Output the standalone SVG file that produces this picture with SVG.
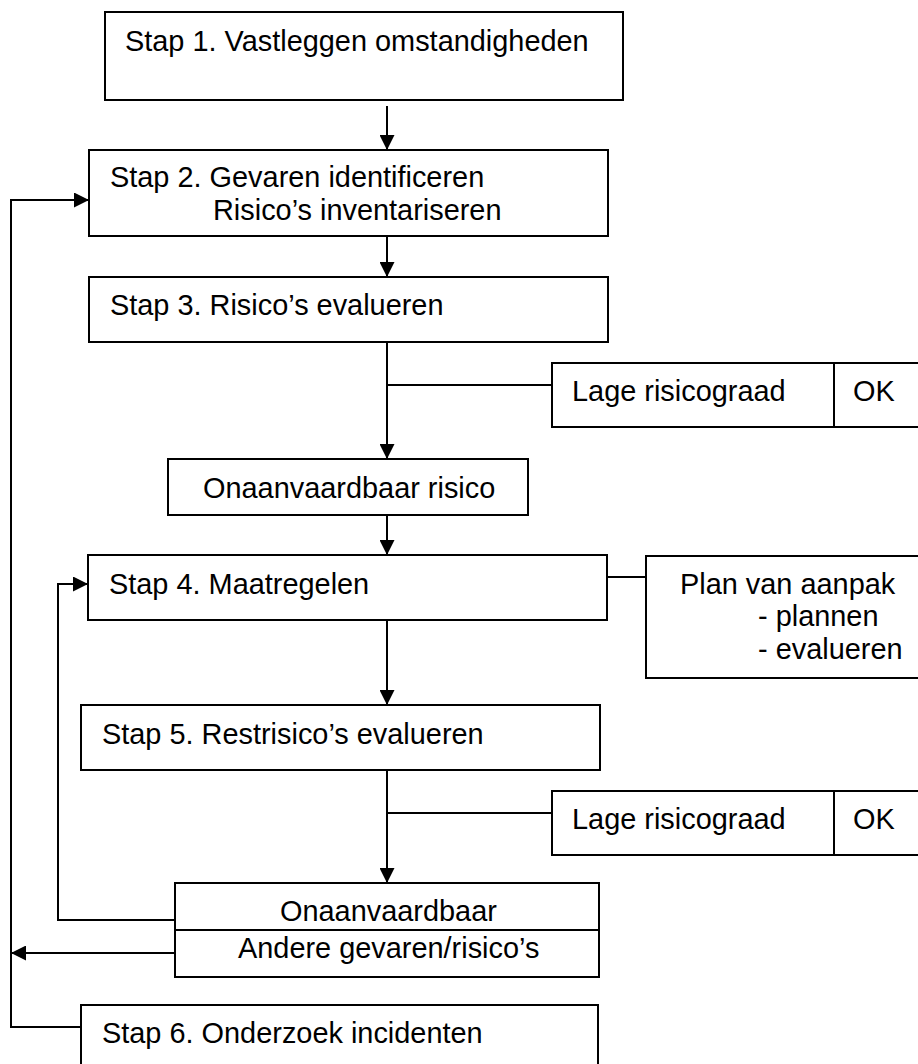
<svg xmlns="http://www.w3.org/2000/svg" width="918" height="1064" viewBox="0 0 918 1064">
<style>
.box{fill:#fff;stroke:#000;stroke-width:2}
.t{font-family:"Liberation Sans",Arial,sans-serif;font-size:28.9px;fill:#000}
.c{fill:none;stroke:#000;stroke-width:2}
</style>
<defs>
<marker id="ah" markerUnits="userSpaceOnUse" markerWidth="15" markerHeight="15" refX="15" refY="7.5" orient="auto">
<path d="M0,0 L15,7.5 L0,15 z" fill="#000"/>
</marker>
</defs>
<rect width="918" height="1064" fill="#fff"/>
<g id="connectors">
<line class="c" x1="387" y1="106" x2="387" y2="150" marker-end="url(#ah)"/>
<line class="c" x1="387" y1="236" x2="387" y2="277" marker-end="url(#ah)"/>
<line class="c" x1="387" y1="342" x2="387" y2="459" marker-end="url(#ah)"/>
<line class="c" x1="387" y1="385" x2="552" y2="385"/>
<line class="c" x1="387" y1="504" x2="387" y2="555" marker-end="url(#ah)"/>
<line class="c" x1="607" y1="577" x2="646" y2="577"/>
<line class="c" x1="387" y1="620" x2="387" y2="705" marker-end="url(#ah)"/>
<line class="c" x1="387" y1="770" x2="387" y2="883" marker-end="url(#ah)"/>
<line class="c" x1="387" y1="813" x2="552" y2="813"/>
<polyline class="c" points="175,920 58,920 58,584 88,584" marker-end="url(#ah)"/>
<line class="c" x1="175" y1="953" x2="11" y2="953" marker-end="url(#ah)"/>
<polyline class="c" points="81,1027 11,1027 11,200 89,200" marker-end="url(#ah)"/>
</g>
<g id="stap1">
<rect class="box" x="105" y="12" width="518" height="88"/>
<text class="t" x="125" y="51">Stap 1. Vastleggen omstandigheden</text>
</g>
<g id="stap2">
<rect class="box" x="89" y="150" width="519" height="86"/>
<text class="t" x="110" y="187">Stap 2. Gevaren identificeren</text>
<text class="t" x="213" y="220">Risico’s inventariseren</text>
</g>
<g id="stap3">
<rect class="box" x="89" y="277" width="519" height="65"/>
<text class="t" x="110" y="315">Stap 3. Risico’s evalueren</text>
</g>
<g id="lage1">
<rect class="box" x="552" y="363" width="370" height="64"/>
<line class="c" x1="834" y1="363" x2="834" y2="427"/>
<text class="t" x="572" y="401">Lage risicograad</text>
<text class="t" x="853" y="401">OK</text>
</g>
<g id="onaanvaardbaar-risico">
<rect class="box" x="168" y="459" width="360" height="56"/>
<text class="t" x="203" y="498">Onaanvaardbaar risico</text>
</g>
<g id="stap4">
<rect class="box" x="88" y="555" width="519" height="65"/>
<text class="t" x="109" y="594">Stap 4. Maatregelen</text>
</g>
<g id="plan">
<rect class="box" x="646" y="556" width="276" height="122"/>
<text class="t" x="680" y="594">Plan van aanpak</text>
<text class="t" x="758" y="626">- plannen</text>
<text class="t" x="758" y="659">- evalueren</text>
</g>
<g id="stap5">
<rect class="box" x="81" y="705" width="519" height="65"/>
<text class="t" x="102" y="744">Stap 5. Restrisico’s evalueren</text>
</g>
<g id="lage2">
<rect class="box" x="552" y="791" width="370" height="64"/>
<line class="c" x1="834" y1="791" x2="834" y2="855"/>
<text class="t" x="572" y="829">Lage risicograad</text>
<text class="t" x="853" y="829">OK</text>
</g>
<g id="onaanvaardbaar">
<rect class="box" x="175" y="883" width="424" height="94"/>
<line class="c" x1="175" y1="930" x2="599" y2="930"/>
<text class="t" x="280" y="921">Onaanvaardbaar</text>
<text class="t" x="238" y="958">Andere gevaren/risico’s</text>
</g>
<g id="stap6">
<rect class="box" x="81" y="1005" width="517" height="70"/>
<text class="t" x="102" y="1043">Stap 6. Onderzoek incidenten</text>
</g>
</svg>
